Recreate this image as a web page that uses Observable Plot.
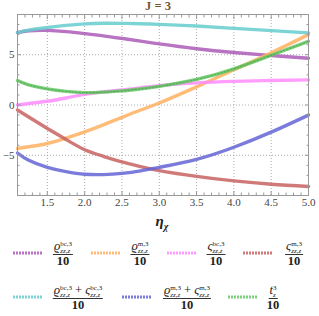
<!DOCTYPE html>
<html><head><meta charset="utf-8">
<script src="https://cdn.jsdelivr.net/npm/d3@7"></script>
<script src="https://cdn.jsdelivr.net/npm/@observablehq/plot@0.6"></script>
<style>
body{margin:0;background:#fff;}
#wrap{position:relative;width:319px;height:316px;overflow:hidden;font-family:"Liberation Serif","DejaVu Serif",serif;color:#222;}
#title{position:absolute;left:108px;top:0px;width:100px;text-align:center;font-size:12.5px;line-height:12px;color:#7a5633;font-weight:bold;}
#chart{position:absolute;left:0;top:12px;}
#xlab{position:absolute;left:112px;top:213px;width:100px;text-align:center;font-size:15px;font-weight:bold;font-style:italic;color:#222;}
#xlab sub{font-size:10px;}
.frac{position:absolute;display:flex;flex-direction:column;align-items:center;transform:translateX(-50%);font-size:12.5px;}
.num{height:15px;line-height:15px;white-space:nowrap;border-bottom:1px solid #333;padding:0 1px;}
.den{line-height:12px;font-weight:bold;}
.it{font-style:italic;}
.ss{display:inline-block;vertical-align:-3px;font-size:7px;line-height:7.5px;text-align:left;}
.ss span{display:block;}
</style></head><body>
<div id="wrap"><div id="title">J = 3</div><div id="chart"></div><div id="xlab">η<sub>χ</sub></div></div>
<script>
const etaChi = [1.1, 1.25, 1.5, 1.75, 2.0, 2.25, 2.5, 2.75, 3.0, 3.5, 4.0, 4.5, 5.0];
const rhoBc  = [7.2, 7.38, 7.42, 7.3, 7.1, 6.88, 6.62, 6.35, 6.08, 5.6, 5.22, 4.92, 4.65];
const rhoM   = [-4.33, -4.15, -3.83, -3.3, -2.67, -1.97, -1.23, -0.5, 0.2, 1.8, 3.5, 5.2, 7.0];
const sBc    = [0.0, 0.15, 0.37, 0.7, 1.05, 1.3, 1.5, 1.7, 1.93, 2.2, 2.35, 2.44, 2.5];
const sM     = [-0.5, -1.2, -2.33, -3.43, -4.45, -5.1, -5.65, -6.12, -6.52, -7.1, -7.55, -7.88, -8.1];
const rhoSBc = [7.2, 7.45, 7.7, 7.92, 8.07, 8.13, 8.12, 8.08, 8.02, 7.85, 7.62, 7.4, 7.17];
const rhoSM  = [-4.77, -5.5, -6.2, -6.62, -6.88, -6.92, -6.8, -6.55, -6.2, -5.4, -4.2, -2.7, -1.0];
const tz     = [2.43, 2.0, 1.6, 1.35, 1.23, 1.28, 1.4, 1.6, 1.85, 2.55, 3.6, 4.95, 6.33];

const seriesNames  = ["rhoBc", "rhoM", "sBc", "sM", "rhoSBc", "rhoSM", "tz"];
const seriesValues = [rhoBc, rhoM, sBc, sM, rhoSBc, rhoSM, tz];
const seriesColors = ["#ad5ab8", "#ffb060", "#ff8cff", "#c86262", "#66cccc", "#6464d6", "#66c866"];

const xMajor = [1.5, 2.0, 2.5, 3.0, 3.5, 4.0, 4.5, 5.0];
const xMinor = d3.range(11, 51).map(v => v / 10).filter(v => !xMajor.some(m => Math.abs(m - v) < 1e-9));
const yMajor = [-5, 0, 5];
const yMinor = d3.range(-9, 10).filter(v => !yMajor.includes(v));

const rows = [];
seriesNames.forEach((s, k) => etaChi.forEach((x, i) => rows.push({s, x, y: seriesValues[k][i]})));

const tickStroke = "#999";
const plot = Plot.plot({
  width: 319, height: 199,
  marginLeft: 17, marginRight: 11, marginTop: 2, marginBottom: 16,
  style: {fontFamily: "'Liberation Serif', serif", fontSize: "11px", color: "#444", background: "transparent"},
  x: {domain: [1.1, 5.0]},
  y: {domain: [-9, 9]},
  color: {domain: seriesNames, range: seriesColors},
  marks: [
    Plot.gridX(xMajor, {stroke: "#aaa", strokeOpacity: 1, strokeDasharray: "1,2"}),
    Plot.gridY(yMajor, {stroke: "#aaa", strokeOpacity: 1, strokeDasharray: "1,2"}),
    Plot.line(rows, {x: "x", y: "y", z: "s", stroke: "s", strokeWidth: 3.4, strokeOpacity: 0.85, curve: "natural"}),
    Plot.line(rows.filter(d => d.s === "tz"), {x: "x", y: "y", stroke: "#2f8f2f", strokeWidth: 1.4, strokeOpacity: 0.4, strokeDasharray: "1.5,2", curve: "natural"}),
    Plot.frame({stroke: "#999"}),
    Plot.axisX(xMajor, {anchor: "bottom", tickSize: -4, tickFormat: () => "", stroke: tickStroke, label: null}),
    Plot.axisX(xMinor, {anchor: "bottom", tickSize: -2.5, tickFormat: () => "", stroke: tickStroke, label: null}),
    Plot.axisX(xMajor, {anchor: "top", tickSize: -4, tickFormat: () => "", stroke: tickStroke, label: null}),
    Plot.axisX(xMinor, {anchor: "top", tickSize: -2.5, tickFormat: () => "", stroke: tickStroke, label: null}),
    Plot.axisX(xMajor, {anchor: "bottom", tickSize: 0, tickPadding: 3, tickFormat: d3.format(".1f"), label: null}),
    Plot.axisY(yMajor, {anchor: "left", tickSize: -4, tickFormat: () => "", stroke: tickStroke, label: null}),
    Plot.axisY(yMinor, {anchor: "left", tickSize: -2.5, tickFormat: () => "", stroke: tickStroke, label: null}),
    Plot.axisY(yMajor, {anchor: "right", tickSize: -4, tickFormat: () => "", stroke: tickStroke, label: null}),
    Plot.axisY(yMinor, {anchor: "right", tickSize: -2.5, tickFormat: () => "", stroke: tickStroke, label: null}),
    Plot.axisY(yMajor, {anchor: "left", tickSize: 0, tickPadding: 3, tickFormat: d => d < 0 ? "\u2212" + Math.abs(d) : String(d), label: null})
  ]
});
document.getElementById("chart").appendChild(plot);

// legend
const legendLabels = [
  '<span class="it">ϱ</span><span class="ss"><span>bc,3</span><span class="it">zz,z</span></span>',
  '<span class="it">ϱ</span><span class="ss"><span>m,3</span><span class="it">zz,z</span></span>',
  '<span class="it">ς</span><span class="ss"><span>bc,3</span><span class="it">zz,z</span></span>',
  '<span class="it">ς</span><span class="ss"><span>m,3</span><span class="it">zz,z</span></span>',
  '<span class="it">ϱ</span><span class="ss"><span>bc,3</span><span class="it">zz,z</span></span> + <span class="it">ς</span><span class="ss"><span>bc,3</span><span class="it">zz,z</span></span>',
  '<span class="it">ϱ</span><span class="ss"><span>m,3</span><span class="it">zz,z</span></span> + <span class="it">ς</span><span class="ss"><span>m,3</span><span class="it">zz,z</span></span>',
  '<span class="it">t</span><span class="ss"><span>3</span><span class="it">z</span></span>'
];
const legendSwatchX = [13, 91, 167, 243, 13, 122, 228];
const legendLabelX  = [63, 140, 216, 294, 78, 187, 273];
const legendRowY    = [253, 297];
const legendRow     = [0, 0, 0, 0, 1, 1, 1];
const wrap = document.getElementById("wrap");
seriesNames.forEach((s, k) => {
  const sw = document.createElementNS("http://www.w3.org/2000/svg", "svg");
  sw.setAttribute("width", 29); sw.setAttribute("height", 4);
  sw.style.position = "absolute";
  sw.style.left = legendSwatchX[k] + "px";
  sw.style.top = (legendRowY[legendRow[k]] - 2) + "px";
  const ln = document.createElementNS("http://www.w3.org/2000/svg", "line");
  ln.setAttribute("x1", 0); ln.setAttribute("x2", 29); ln.setAttribute("y1", 2); ln.setAttribute("y2", 2);
  ln.setAttribute("stroke", seriesColors[k]); ln.setAttribute("stroke-width", 3);
  ln.setAttribute("stroke-dasharray", "2,1"); ln.setAttribute("stroke-opacity", 0.85);
  sw.appendChild(ln);
  wrap.appendChild(sw);
  const f = document.createElement("div");
  f.className = "frac";
  f.style.left = legendLabelX[k] + "px";
  f.style.top = (legendRowY[legendRow[k]] - 14) + "px";
  f.innerHTML = '<div class="num">' + legendLabels[k] + '</div><div class="den">10</div>';
  wrap.appendChild(f);
});
</script>
</body></html>
